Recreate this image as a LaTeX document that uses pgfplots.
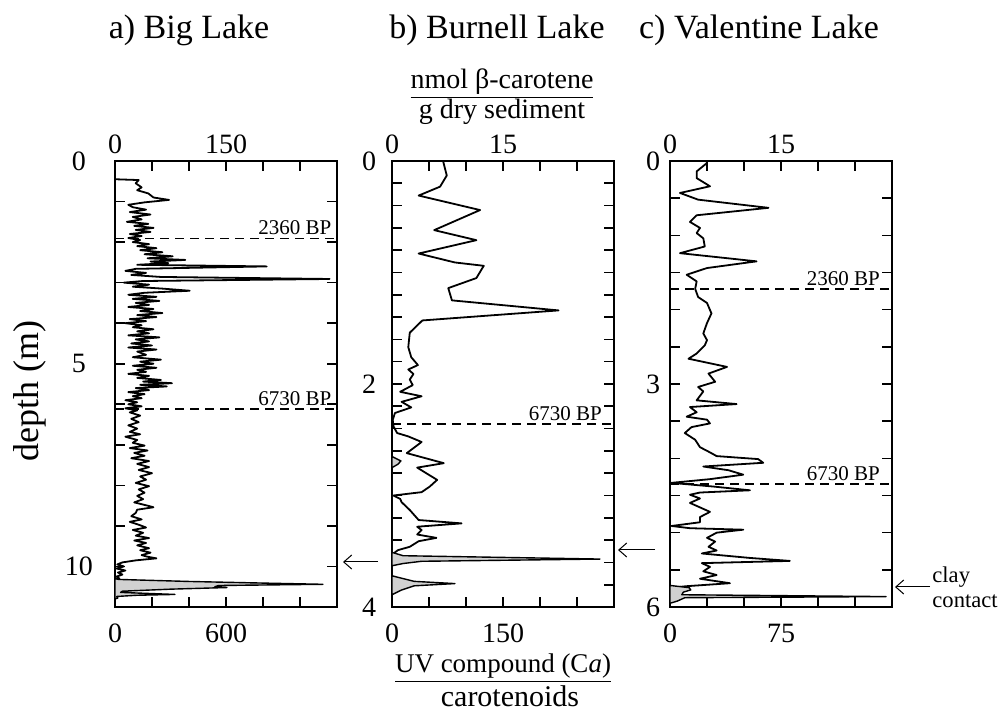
\documentclass[border=0pt]{standalone}
\usepackage{fontspec}
\setmainfont{Liberation Serif}
\usepackage{pgfplots}
\pgfplotsset{compat=1.18}
\usetikzlibrary{arrows.meta}

\tikzset{
  bpline/.style={black, line width=0.9pt, dash pattern=on 4.5pt off 3pt},
  bplabel/.style={anchor=south east, inner sep=0pt, yshift=1.5pt, font=\fontsize{10.5}{11}\selectfont},
}
\pgfplotsset{
  panelbase/.style={
    scale only axis, width=111pt, height=223pt,
    y dir=reverse, anchor=south west,
    tick align=inside, major tick length=5pt,
    tick style={black, line width=0.8pt},
    ticklabel style={font=\fontsize{14}{15}\selectfont},
    /pgf/number format/assume math mode=true,
  },
  carot/.style={panelbase, axis line style={line width=1pt},
    xtick pos=right, xticklabel pos=right,
    ytick pos=both, yticklabel pos=left,
    yticklabel style={anchor=center}},
  uvax/.style={panelbase, axis line style={draw=none},
    xtick pos=left, xticklabel pos=left, ytick=\empty,
    xticklabel style={yshift=-5pt}},
  dline/.style={black, line width=0.9pt, line join=round},
  uvfill/.style={black, line width=0.7pt, fill=black!18, line join=round},
}

\begin{document}
\begin{tikzpicture}
\useasboundingbox (0,0) rectangle (499.5pt,357.5pt);

% ---------------- a) Big Lake
\begin{axis}[carot, at={(57.5pt,54pt)}, xmin=0, xmax=300, ymin=0, ymax=11,
  xtick={0,50,...,300}, xticklabels={0,,,150,,,},
  ytick={0,1,...,11}, yticklabels={0,,,,,5,,,,,10,},
  yticklabel style={xshift=-18pt}]
\addplot[dline] coordinates {
(0,0.45)(32,0.47)(28,0.55)(36,0.65)(30,0.72)(45,0.8)(52,0.9)(73,0.96)(40,1.02)(18,1.08)
(24,1.14)(42,1.2)(20,1.26)(48,1.32)(24,1.38)(36,1.44)(16,1.5)(45,1.55)(26,1.6)(52,1.65)
(28,1.7)(48,1.75)(20,1.8)(36,1.85)(18,1.9)(34,1.95)(24,2.0)(46,2.05)(30,2.1)(56,2.15)
(34,2.2)(64,2.25)(40,2.3)(78,2.35)(44,2.4)(95,2.44)(48,2.48)(72,2.52)(30,2.56)(205,2.6)
(28,2.66)(14,2.71)(42,2.76)(22,2.81)(62,2.86)(290,2.91)(38,2.96)(12,3.0)(46,3.05)(24,3.1)
(66,3.15)(101,3.2)(40,3.25)(18,3.3)(56,3.35)(24,3.4)(60,3.45)(28,3.5)(46,3.55)(18,3.6)
(52,3.65)(34,3.7)(64,3.75)(30,3.8)(56,3.85)(20,3.9)(42,3.95)(14,4.0)(36,4.05)(24,4.1)
(52,4.15)(30,4.2)(46,4.25)(18,4.3)(60,4.35)(28,4.4)(46,4.45)(22,4.5)(50,4.55)(18,4.6)
(56,4.65)(30,4.7)(42,4.78)(24,4.84)(62,4.9)(34,4.95)(52,5.0)(24,5.05)(56,5.1)(30,5.15)
(42,5.2)(18,5.25)(46,5.3)(30,5.35)(62,5.4)(38,5.44)(77,5.48)(34,5.52)(70,5.56)(28,5.6)
(46,5.65)(18,5.7)(40,5.75)(24,5.8)(36,5.85)(14,5.9)(30,5.95)(18,6.0)(36,6.05)(14,6.1)
(30,6.15)(20,6.2)(34,6.28)(22,6.36)(32,6.44)(18,6.52)(30,6.6)(20,6.68)(34,6.74)(14,6.8)
(30,6.88)(24,6.95)(40,7.02)(20,7.08)(44,7.14)(26,7.2)(40,7.27)(22,7.33)(46,7.4)(30,7.47)
(46,7.55)(32,7.62)(50,7.7)(34,7.78)(42,7.86)(28,7.94)(46,8.02)(32,8.1)(40,8.18)(30,8.26)
(38,8.34)(26,8.42)(44,8.5)(52,8.54)(30,8.6)(28,8.68)(22,8.76)(36,8.84)(20,8.9)(32,8.97)
(42,9.04)(24,9.1)(38,9.17)(28,9.24)(46,9.3)(26,9.36)(42,9.42)(30,9.48)(46,9.55)(34,9.6)
(48,9.66)(36,9.72)(44,9.76)(56,9.8)(28,9.85)(10,9.9)(3,9.95)(12,10.0)(2,10.05)(14,10.1)
(4,10.15)(10,10.2)(2,10.25)(6,10.3)(0,10.33)};
\draw[bpline] (axis cs:0,1.91) -- (axis cs:300,1.91);
\node[bplabel] at (axis cs:293,1.91) {2360 BP};
\draw[bpline] (axis cs:0,6.12) -- (axis cs:300,6.12);
\node[bplabel] at (axis cs:293,6.12) {6730 BP};
\end{axis}
\begin{axis}[uvax, at={(57.5pt,54pt)}, xmin=0, xmax=1200, ymin=0, ymax=11,
  xtick={0,200,...,1200}, xticklabels={0,,,600,,,}]
\addplot[uvfill] coordinates {
(0,10.3)(20,10.32)(400,10.37)(800,10.41)(1124,10.44)(560,10.47)(540,10.5)(605,10.52)
(300,10.56)(40,10.61)(30,10.64)(324,10.69)(120,10.71)(10,10.74)(15,10.78)(0,10.8)} -- cycle;
\end{axis}

% ---------------- b) Burnell Lake
\begin{axis}[carot, at={(196pt,54pt)}, xmin=0, xmax=30, ymin=0, ymax=4,
  xtick={0,5,...,30}, xticklabels={0,,,15,,,},
  ytick={0,0.2,0.4,0.6,0.8,1,1.2,1.4,1.6,1.8,2,2.2,2.4,2.6,2.8,3,3.2,3.4,3.6,3.8,4},
  yticklabels={0,,,,,,,,,,2,,,,,,,,,,4},
  yticklabel style={xshift=-11.5pt}]
\addplot[dline] coordinates {
(6.9,0.0)(7.4,0.13)(6.5,0.23)(3.6,0.31)(11.9,0.44)(5.7,0.62)(11.4,0.71)(3.6,0.83)(8.5,0.91)
(12.4,0.94)(11.4,1.05)(7.6,1.14)(8.1,1.25)(22.5,1.34)(4.1,1.43)(2.4,1.54)(2.2,1.67)(2.6,1.76)
(3.5,1.83)(2.2,1.87)(2.9,1.91)(2.4,1.96)(2.8,2.01)(1.1,2.07)(4.0,2.11)(1.3,2.16)(2.6,2.21)
(0.4,2.26)(0.1,2.32)(0.2,2.38)(0.7,2.44)(2.2,2.47)(4.0,2.52)(2.0,2.62)(7.0,2.71)(3.4,2.75)
(6.1,2.86)(5.1,2.92)(4.0,2.97)(0.2,3.0)(1.1,3.03)(1.3,3.06)(2.4,3.13)(3.6,3.22)(9.4,3.25)
(3.4,3.28)(4.0,3.31)(3.4,3.35)(6.0,3.38)(3.6,3.41)(2.4,3.46)(0.8,3.49)(0.2,3.52)};
\draw[bpline] (axis cs:0,2.36) -- (axis cs:30,2.36);
\node[bplabel] at (axis cs:28.4,2.36) {6730 BP};
\end{axis}
\begin{axis}[uvax, at={(196pt,54pt)}, xmin=0, xmax=300, ymin=0, ymax=4,
  xtick={0,50,...,300}, xticklabels={0,,,150,,,}]
\addplot[uvfill] coordinates {
(0,2.65)(12,2.69)(8,2.72)(0,2.75)(0,3.51)(15,3.54)(281,3.57)(40,3.59)(15,3.61)(0,3.63)
(0,3.72)(12,3.74)(30,3.77)(85,3.79)(30,3.81)(12,3.85)(0,3.89)} -- cycle;
\end{axis}

% ---------------- c) Valentine Lake
\begin{axis}[carot, at={(335pt,54pt)}, xmin=0, xmax=30, ymin=0, ymax=6,
  xtick={0,5,...,30}, xticklabels={0,,,15,,,},
  ytick={0,0.5,1,1.5,2,2.5,3,3.5,4,4.5,5,5.5,6},
  yticklabels={0,,,,,,3,,,,,,6},
  yticklabel style={xshift=-8.5pt}]
\addplot[dline] coordinates {
(5.0,0.0)(4.96,0.03)(3.6,0.14)(3.6,0.23)(5.4,0.34)(1.35,0.43)(3.8,0.52)(13.3,0.63)(3.6,0.73)
(2.7,0.82)(4.05,0.9)(3.6,0.97)(4.5,1.04)(4.7,1.15)(1.35,1.24)(11.7,1.35)(5.0,1.44)(2.25,1.53)
(3.6,1.62)(3.4,1.72)(3.8,1.83)(5.0,1.91)(5.6,2.05)(5.0,2.18)(4.5,2.32)(5.0,2.41)(4.7,2.48)
(3.6,2.59)(2.5,2.66)(7.7,2.77)(5.2,2.86)(6.1,2.97)(3.8,3.04)(4.5,3.1)(3.6,3.22)(9.0,3.27)
(2.7,3.31)(3.6,3.38)(2.25,3.44)(5.0,3.48)(5.4,3.53)(2.9,3.58)(2.0,3.66)(3.4,3.75)(4.05,3.85)
(5.4,3.92)(6.3,3.97)(11.9,4.01)(12.6,4.06)(4.5,4.11)(7.9,4.16)(9.9,4.22)(5.4,4.28)(0.2,4.33)
(5.9,4.38)(10.8,4.43)(4.05,4.46)(2.7,4.49)(4.05,4.54)(2.7,4.6)(4.05,4.66)(5.4,4.72)(4.05,4.79)
(4.05,4.86)(0.2,4.91)(2.7,4.94)(9.9,4.96)(6.3,5.0)(5.0,5.07)(6.1,5.12)(5.2,5.19)(6.3,5.24)
(4.3,5.28)(10.8,5.34)(16.2,5.38)(4.3,5.41)(5.4,5.46)(4.5,5.52)(6.3,5.57)(4.05,5.62)(8.1,5.68)
(2.25,5.72)(0.2,5.74)};
\draw[bpline] (axis cs:0,1.72) -- (axis cs:30,1.72);
\node[bplabel] at (axis cs:28.4,1.72) {2360 BP};
\draw[bpline] (axis cs:0,4.35) -- (axis cs:30,4.35);
\node[bplabel] at (axis cs:28.4,4.35) {6730 BP};
\end{axis}
\begin{axis}[uvax, at={(335pt,54pt)}, xmin=0, xmax=150, ymin=0, ymax=6,
  xtick={0,25,...,150}, xticklabels={0,,,75,,,}]
\addplot[uvfill] coordinates {
(0,5.71)(13,5.74)(14,5.77)(9,5.8)(8,5.835)(146,5.86)(10,5.875)(5,5.92)(0,5.95)} -- cycle;
\end{axis}

% ---------------- titles and labels
\node[anchor=base, font=\fontsize{17}{19}\selectfont] at (94.5pt,338pt) {a) Big Lake};
\node[anchor=base, font=\fontsize{17}{19}\selectfont] at (248.5pt,338pt) {b) Burnell Lake};
\node[anchor=base, font=\fontsize{17}{19}\selectfont] at (379.5pt,338pt) {c) Valentine Lake};
\node[rotate=90, font=\fontsize{18}{20}\selectfont] at (15pt,162pt) {depth (m)};
\node[anchor=base, font=\fontsize{14}{16}\selectfont] at (251pt,313pt) {\underline{nmol β-carotene}};
\node[anchor=base, font=\fontsize{14}{16}\selectfont] at (251pt,298pt) {g dry sediment};
\node[anchor=base, font=\fontsize{13.5}{16}\selectfont] at (251.5pt,21pt) {\underline{UV compound (C\textit{a})}};
\node[anchor=base, font=\fontsize{15}{16}\selectfont] at (255pt,4pt) {carotenoids};
\node[anchor=base west, inner sep=0pt, font=\fontsize{11.3}{12}\selectfont] at (466pt,66pt) {clay};
\node[anchor=base west, inner sep=0pt, font=\fontsize{11.3}{12}\selectfont] at (466pt,53.5pt) {contact};
\draw[line width=0.5pt, -{Straight Barb[length=4pt,width=7pt]}] (189pt,76.5pt) -- (171.5pt,76.5pt);
\draw[line width=0.5pt, -{Straight Barb[length=4pt,width=7pt]}] (327.5pt,82.5pt) -- (309pt,82.5pt);
\draw[line width=0.5pt, -{Straight Barb[length=4pt,width=7pt]}] (465pt,64pt) -- (447.5pt,64pt);
\end{tikzpicture}
\end{document}
